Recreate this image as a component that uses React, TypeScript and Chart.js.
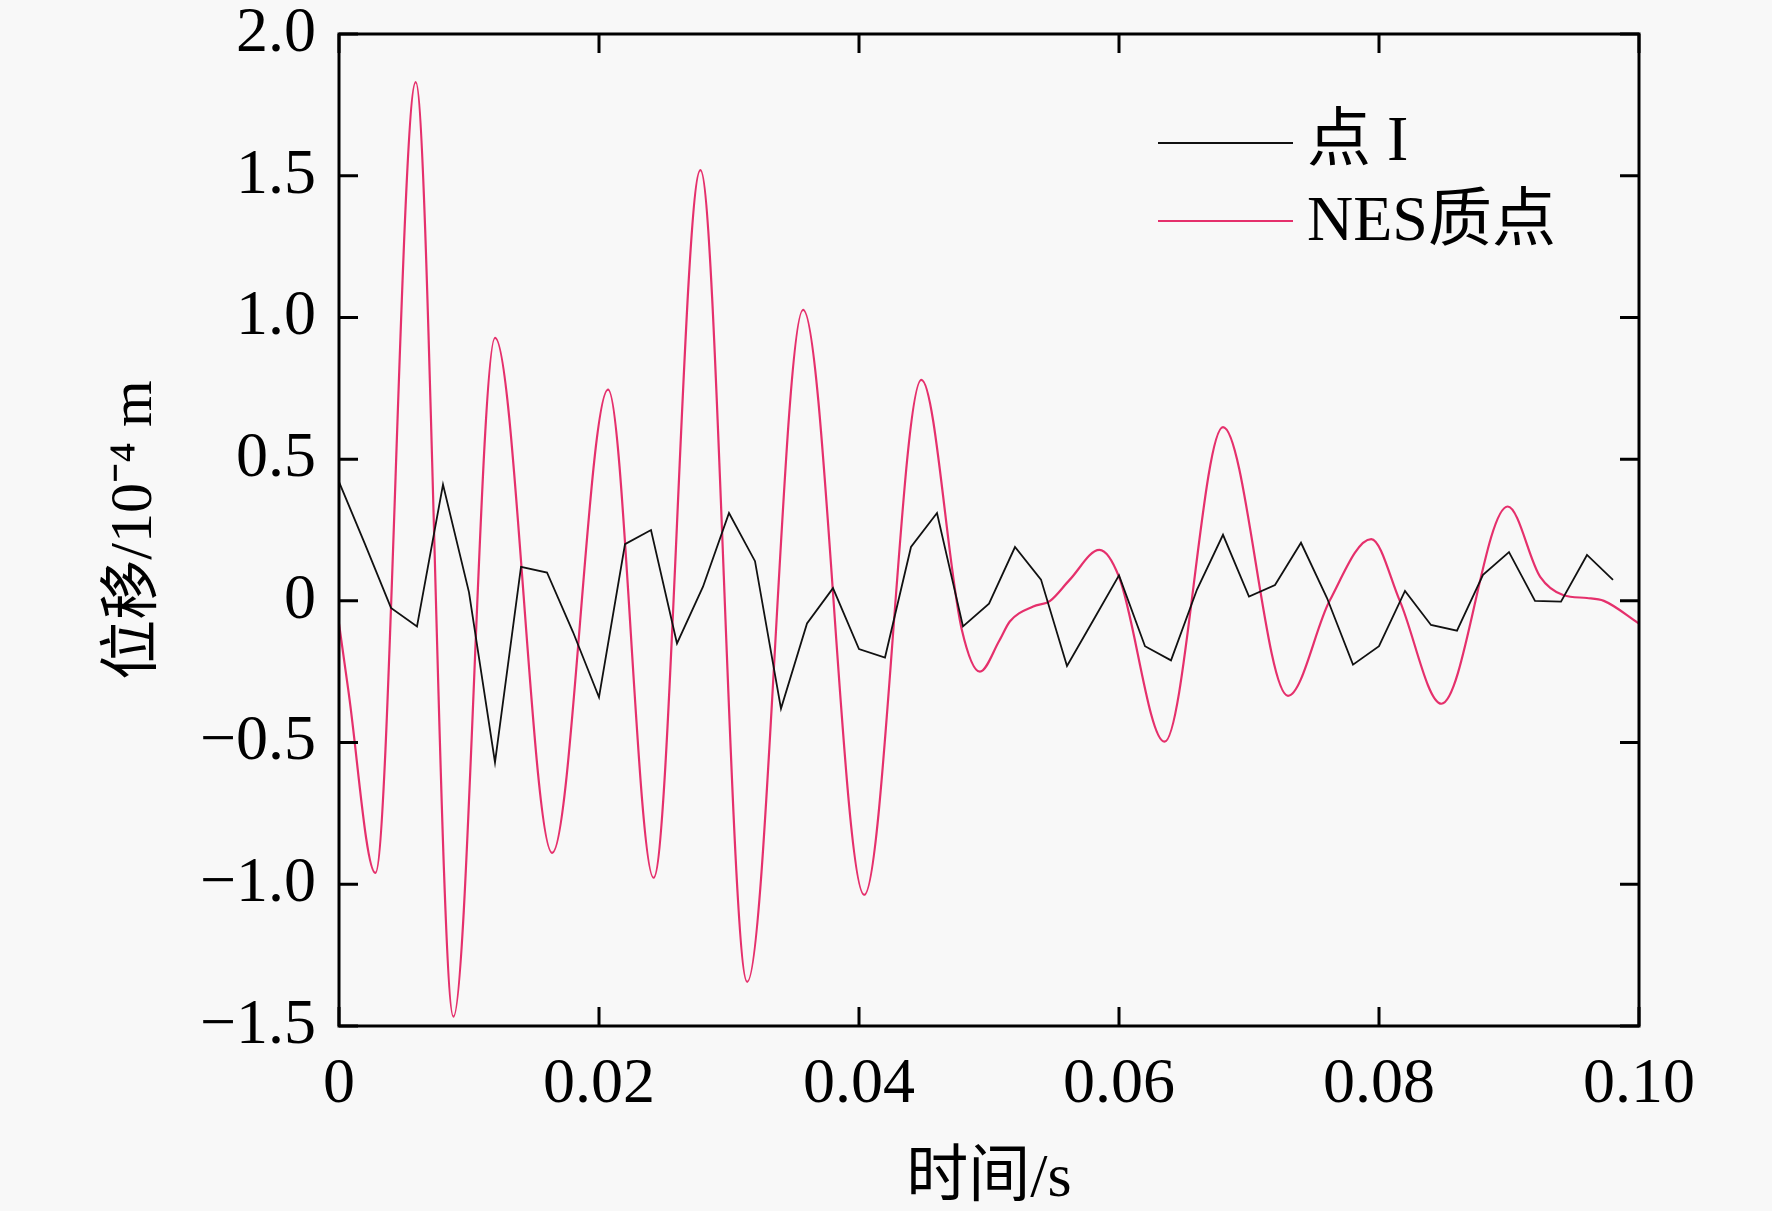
import React, { useEffect, useRef } from "react";
import { Chart, registerables } from "chart.js";

Chart.register(...registerables);

// ---- data ----
const POINT_I_T = [
  0, 0.002, 0.004, 0.006, 0.008, 0.01, 0.012, 0.014, 0.016, 0.018,
  0.02, 0.022, 0.024, 0.026, 0.028, 0.03, 0.032, 0.034, 0.036, 0.038,
  0.04, 0.042, 0.044, 0.046, 0.048, 0.05, 0.052, 0.054, 0.056, 0.058,
  0.06, 0.062, 0.064, 0.066, 0.068, 0.07, 0.072, 0.074, 0.076, 0.078,
  0.08, 0.082, 0.084, 0.086, 0.088, 0.09, 0.092, 0.094, 0.096, 0.098,
];
const POINT_I_V = [
  0.42, 0.2, -0.025, -0.09, 0.41, 0.03, -0.57, 0.12, 0.1, -0.11,
  -0.34, 0.2, 0.25, -0.15, 0.05, 0.31, 0.14, -0.38, -0.08, 0.045,
  -0.17, -0.2, 0.19, 0.31, -0.09, -0.01, 0.19, 0.075, -0.23, -0.07,
  0.09, -0.16, -0.21, 0.04, 0.233, 0.015, 0.056, 0.205, 0.01, -0.225,
  -0.16, 0.035, -0.085, -0.105, 0.092, 0.172, 0.0, -0.003, 0.162, 0.074,
];

const NES_T = [
  0, 0.0007, 0.0028, 0.0059, 0.0088, 0.012, 0.0164, 0.0207, 0.0242, 0.0278,
  0.0314, 0.0357, 0.0404, 0.0448, 0.0479, 0.0493, 0.0508, 0.0516, 0.0534, 0.0547,
  0.0562, 0.0585, 0.06, 0.0635, 0.068, 0.073, 0.0762, 0.0794, 0.0816, 0.0848,
  0.0899, 0.0924, 0.0942, 0.096, 0.0973, 0.1,
];
const NES_V = [
  -0.08, -0.31, -0.96, 1.83, -1.467, 0.928, -0.889, 0.745, -0.977, 1.52,
  -1.344, 1.027, -1.037, 0.78, -0.1, -0.25, -0.14, -0.073, -0.02, 0.0,
  0.074, 0.18, 0.085, -0.497, 0.613, -0.335, 0.0, 0.218, 0.0, -0.363,
  0.333, 0.085, 0.02, 0.01, 0.0, -0.08,
];

const SERIES_LABELS = ["点 I", "NES质点"];
const SERIES_COLORS = ["#111111", "#e5306c"];

const X_TICKS = [0, 0.02, 0.04, 0.06, 0.08, 0.1];
const X_TICK_LABELS = ["0", "0.02", "0.04", "0.06", "0.08", "0.10"];
const Y_TICKS = [-1.5, -1.0, -0.5, 0, 0.5, 1.0, 1.5, 2.0];
const Y_TICK_LABELS = ["\u22121.5", "\u22121.0", "\u22120.5", "0", "0.5", "1.0", "1.5", "2.0"];

const X_TITLE = "时间/s";
const Y_TITLE = "位移/10\u207B\u2074 m";

const FONT = "'Liberation Serif', 'Times New Roman', 'Noto Sans CJK SC', serif";

const W = 1772;
const H = 1211;
const TICK_LEN = 19;

const framePlugin = {
  id: "frameAndLegend",
  afterDatasetsDraw(chart: any) {
    const { ctx, chartArea } = chart;
    const { left, right, top, bottom } = chartArea;
    const xs = chart.scales.x;
    const ys = chart.scales.y;
    ctx.save();
    ctx.strokeStyle = "#000";
    ctx.lineWidth = 3;
    ctx.lineCap = "butt";
    ctx.strokeRect(left, top, right - left, bottom - top);
    ctx.beginPath();
    xs.ticks.forEach((t: any) => {
      const px = xs.getPixelForValue(t.value);
      ctx.moveTo(px, bottom);
      ctx.lineTo(px, bottom - TICK_LEN);
      ctx.moveTo(px, top);
      ctx.lineTo(px, top + TICK_LEN);
    });
    ys.ticks.forEach((t: any) => {
      const py = ys.getPixelForValue(t.value);
      ctx.moveTo(left, py);
      ctx.lineTo(left + TICK_LEN, py);
      ctx.moveTo(right, py);
      ctx.lineTo(right - TICK_LEN, py);
    });
    ctx.stroke();

    // legend (inside chart area, top-right)
    const lx0 = right - 481;
    const lx1 = right - 346;
    const tx = right - 332;
    const rows = [top + 109, top + 187];
    ctx.font = `64px ${FONT}`;
    ctx.textAlign = "left";
    ctx.textBaseline = "middle";
    chart.data.datasets.forEach((ds: any, i: number) => {
      const yy = rows[i];
      ctx.beginPath();
      ctx.strokeStyle = ds.borderColor;
      ctx.lineWidth = 2.2;
      ctx.moveTo(lx0, yy);
      ctx.lineTo(lx1, yy);
      ctx.stroke();
      ctx.fillStyle = "#000";
      ctx.fillText(ds.label, tx, yy + (i === 1 ? 2 : 0));
    });
    ctx.restore();
  },
};

export default function App() {
  const ref = useRef<HTMLCanvasElement | null>(null);

  useEffect(() => {
    document.body.style.margin = "0";
    document.body.style.background = "#f8f8f8";
    const canvas = ref.current;
    if (!canvas) return;
    const chart = new Chart(canvas, {
      type: "line",
      data: {
        datasets: [
          {
            label: SERIES_LABELS[0],
            data: POINT_I_T.map((t, i) => ({ x: t, y: POINT_I_V[i] })),
            borderColor: SERIES_COLORS[0],
            backgroundColor: SERIES_COLORS[0],
            borderWidth: 1.8,
            pointRadius: 0,
            tension: 0,
            fill: false,
          },
          {
            label: SERIES_LABELS[1],
            data: NES_T.map((t, i) => ({ x: t, y: NES_V[i] })),
            borderColor: SERIES_COLORS[1],
            backgroundColor: SERIES_COLORS[1],
            borderWidth: 2.2,
            pointRadius: 0,
            cubicInterpolationMode: "monotone",
            fill: false,
          },
        ],
      },
      options: {
        animation: false,
        responsive: true,
        maintainAspectRatio: false,
        devicePixelRatio: 1,
        layout: { padding: { left: 0, top: 34, right: 133, bottom: 0 } },
        plugins: {
          legend: { display: false },
          tooltip: { enabled: false },
        },
        scales: {
          x: {
            type: "linear",
            min: 0,
            max: 0.1,
            grid: { display: false, drawTicks: false },
            border: { display: false },
            afterBuildTicks: (scale: any) => {
              scale.ticks = X_TICKS.map((v) => ({ value: v }));
            },
            afterFit: (scale: any) => {
              scale.height = H - 1026;
              scale.paddingLeft = 0;
              scale.paddingRight = 0;
            },
            ticks: {
              padding: 27,
              color: "#000",
              maxRotation: 0,
              autoSkip: false,
              font: { family: FONT, size: 64, lineHeight: 1 },
              callback: (_v: any, i: number) => X_TICK_LABELS[i],
            },
            title: {
              display: true,
              text: X_TITLE,
              color: "#000",
              font: { family: FONT, size: 62, lineHeight: 1 },
              padding: { top: 0, bottom: 0 },
            },
          },
          y: {
            type: "linear",
            min: -1.5,
            max: 2.0,
            grid: { display: false, drawTicks: false },
            border: { display: false },
            afterBuildTicks: (scale: any) => {
              scale.ticks = Y_TICKS.map((v) => ({ value: v }));
            },
            afterFit: (scale: any) => {
              scale.width = 339;
              scale.paddingTop = 0;
              scale.paddingBottom = 0;
            },
            ticks: {
              padding: 23,
              color: "#000",
              autoSkip: false,
              font: { family: FONT, size: 64, lineHeight: 1 },
              callback: (_v: any, i: number) => Y_TICK_LABELS[i],
            },
            title: {
              display: true,
              text: Y_TITLE,
              color: "#000",
              font: { family: FONT, size: 60, lineHeight: 1.2 },
              padding: { top: 99, bottom: 0 },
            },
          },
        },
      },
      plugins: [framePlugin],
    });
    return () => chart.destroy();
  }, []);

  return (
    <div
      style={{
        position: "fixed",
        left: 0,
        top: 0,
        width: W,
        height: H,
        background: "#f8f8f8",
      }}
    >
      <canvas ref={ref} />
    </div>
  );
}
